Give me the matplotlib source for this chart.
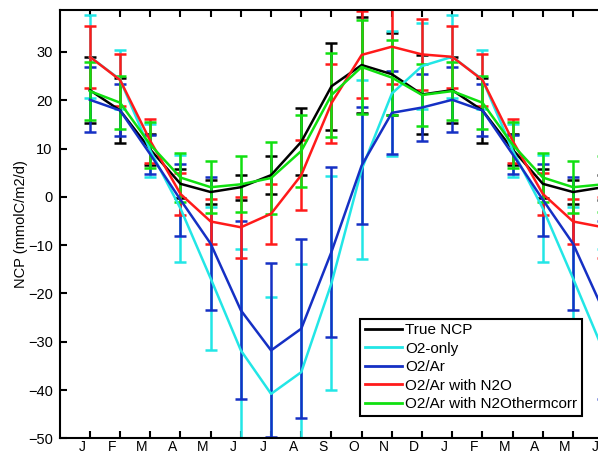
import numpy as np
import matplotlib
matplotlib.use("Agg")
import matplotlib.pyplot as plt
from matplotlib.lines import Line2D

plt.rcParams['font.family'] = ['Liberation Sans', 'DejaVu Sans']

# month labels (12 months + first 6 repeated)
month_labels = ["J", "F", "M", "A", "M", "J", "J", "A", "S", "O", "N", "D",
                "J", "F", "M", "A", "M", "J"]
months = np.arange(1, 19)

# True NCP
ncp_true = [22.1, 17.9, 9.8, 2.7, 1.0, 2.0, 4.5, 11.4, 22.9, 27.3, 25.4, 21.2,
            22.1, 17.9, 9.8, 2.7, 1.0, 2.0]
ncp_true_err = [6.9, 6.7, 3.2, 3.0, 2.5, 2.6, 4.0, 6.9, 9.0, 10.0, 8.5, 8.1,
                6.9, 6.7, 3.2, 3.0, 2.5, 2.6]

# O2-only
o2_only = [29.0, 24.3, 9.6, -2.4, -16.9, -31.8, -40.8, -36.3, -17.9, 5.7, 21.4, 27.1,
           29.0, 24.3, 9.6, -2.4, -16.9, -31.8]
o2_only_err = [8.6, 6.1, 5.4, 11.0, 14.9, 21.0, 20.0, 22.4, 22.2, 18.5, 13.0, 9.0,
               8.6, 6.1, 5.4, 11.0, 14.9, 21.0]

# O2/Ar
o2ar = [20.1, 17.9, 8.8, -0.6, -9.7, -23.5, -31.8, -27.3, -11.4, 6.5, 17.4, 18.5,
        20.1, 17.9, 8.8, -0.6, -9.7, -23.5]
o2ar_err = [6.7, 5.4, 4.1, 7.5, 13.8, 18.4, 18.0, 18.6, 17.6, 12.2, 8.6, 7.0,
            6.7, 5.4, 4.1, 7.5, 13.8, 18.4]

# O2/Ar with N2O
o2ar_n2o = [29.0, 24.2, 11.6, 0.6, -5.1, -6.3, -3.5, 4.5, 19.4, 29.4, 31.1, 29.5,
            29.0, 24.2, 11.6, 0.6, -5.1, -6.3]
o2ar_n2o_err = [6.4, 5.4, 4.5, 4.3, 4.7, 6.3, 6.2, 7.2, 8.2, 9.0, 7.8, 7.4,
                6.4, 5.4, 4.5, 4.3, 4.7, 6.3]

# O2/Ar with N2O thermal correction
o2ar_n2o_tc = [21.9, 19.5, 10.8, 4.0, 2.0, 2.6, 3.9, 9.5, 21.1, 26.9, 24.7, 21.1,
               21.9, 19.5, 10.8, 4.0, 2.0, 2.6]
o2ar_n2o_tc_err = [6.0, 5.5, 4.8, 5.0, 5.4, 5.8, 7.5, 7.5, 8.7, 9.7, 7.8, 6.5,
                   6.0, 5.5, 4.8, 5.0, 5.4, 5.8]

series = [
    ("True NCP", ncp_true, ncp_true_err, "black"),
    ("O2-only", o2_only, o2_only_err, "#22E6E6"),
    ("O2/Ar", o2ar, o2ar_err, "#1530C4"),
    ("O2/Ar with N2O", o2ar_n2o, o2ar_n2o_err, "#FF1A1A"),
    ("O2/Ar with N2Othermcorr", o2ar_n2o_tc, o2ar_n2o_tc_err, "#10E010"),
]

fig = plt.figure(figsize=(5.98, 4.54), dpi=100)
ax = fig.add_axes([0.0998, 0.0346, 0.9595, 0.9434])

handles = []
for name, vals, err, col in series:
    ax.errorbar(months, vals, yerr=err, color=col, lw=1.8, elinewidth=1.8,
                capsize=4.3, capthick=1.8)
    handles.append(Line2D([], [], color=col, lw=2, label=name))

ax.set_xlim(0, 19)
ax.set_ylim(-50, 38.7)
ax.set_yticks(np.arange(-50, 31, 10))

# ticks at the months, labels drawn slightly left of each tick
ax.set_xticks(months)
ax.set_xticklabels([])
ax.set_xticks(months - 0.27, minor=True)
ax.set_xticklabels(month_labels, minor=True)
ax.tick_params(axis='x', which='major', direction='in', length=5, width=1.5,
               top=True, bottom=True)
ax.tick_params(axis='x', which='minor', length=0, pad=1, labelsize=10)
ax.tick_params(axis='y', direction='in', length=5, width=1.5, labelsize=10.5, pad=5)

for s in ax.spines.values():
    s.set_linewidth(1.5)
ax.spines['right'].set_visible(False)

ax.set_ylabel("NCP (mmolC/m2/d)", fontsize=10.5, labelpad=0)

leg = ax.legend(handles=handles, loc='lower right',
                bbox_to_anchor=(582 / 598, 38 / 454),
                bbox_transform=fig.transFigure, fontsize=11, frameon=True,
                fancybox=False, framealpha=1, edgecolor='black',
                handlelength=2.45, handletextpad=0.2, labelspacing=0.3,
                borderpad=0.3, borderaxespad=0)
leg.get_frame().set_linewidth(1.5)

fig.savefig("out.png", dpi=100)
